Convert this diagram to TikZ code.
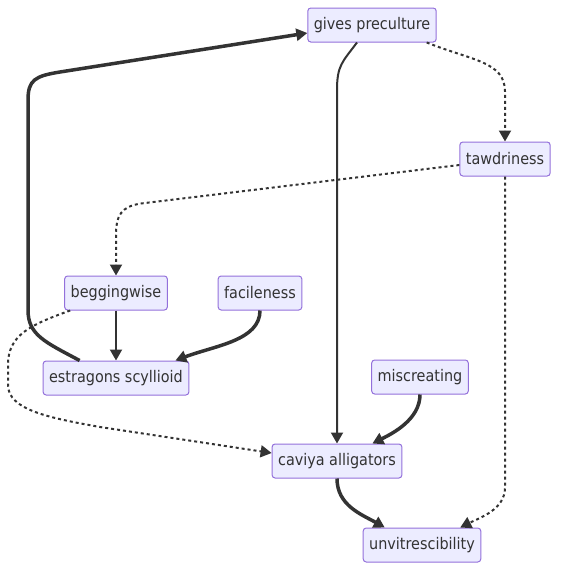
\documentclass[tikz,border=0pt]{standalone}
\usepackage{fontspec}
\setmainfont{DejaVu Sans Condensed}
\usepackage{tikz}
\usetikzlibrary{arrows.meta,calc,positioning}
\definecolor{boxfill}{HTML}{ECECFF}
\definecolor{boxline}{HTML}{9370DB}
\definecolor{ink}{HTML}{333333}
\tikzstyle{box}=[draw=boxline, fill=boxfill, rounded corners=3pt, line width=1pt,
  minimum height=34pt, inner xsep=6pt, text=ink, font=\fontsize{16}{19}\selectfont]
\tikzstyle{link}=[draw=ink, line width=2pt, -{Triangle[length=11pt,width=12pt]}]
\tikzstyle{heavy}=[link, line width=3.5pt]
\tikzstyle{dots}=[link, dash pattern=on 3pt off 3pt]

\begin{document}
\begin{tikzpicture}[x=1pt, y=-1pt]
  \useasboundingbox (0,0) rectangle (560,570);
  % nodes
  \node[box] (gp) at (372,25) {gives preculture};
  \node[box] (taw) at (505,159) {tawdriness};
  \node[box] (beg) at (116,293) {beggingwise};
  \node[box] (fac) at (260,293) {facileness};
  \node[box, below=50pt of beg] (est) {estragons scyllioid};
  \node[box] (mis) at (420,377) {miscreating};
  \node[box] (cav) at (337,461) {caviya alligators};
  \node[box] (unv) at (422,545) {unvitrescibility};
  % gives preculture
  \draw[dots] ($(gp.south east)+(-10,0)$) .. controls +(45,18) and +(0,-30) ..
    ($(taw.north)+(0,-50)$) -- (taw.north);
  \draw[link] ($(gp.south)+(-15,0)$) .. controls +(-15,20) and +(0,-25) ..
    ($(cav.north |- gp.south)+(0,48)$) -- (cav.north);
  % tawdriness
  \draw[dots] ($(taw.west)+(0,6)$) -- ($(beg.north)+(25,-72)$)
    .. controls +(-20,3) and +(0,-20) .. ($(beg.north)+(0,-40)$) -- (beg.north);
  \draw[dots] (taw.south) -- ($(taw.south |- unv.north)+(0,-40)$)
    .. controls +(0,22) and +(20,-10) .. ($(unv.north east)+(-21,0)$);
  % estragons scyllioid back up
  \draw[heavy] ($(est.north west)+(37,0)$) .. controls (45,342) and (28,335) .. (28,310)
    -- (28,100) .. controls (28,80) and (35,76) .. (60,72) -- ($(gp.west)+(0,8)$);
  % beggingwise
  \draw[link] (beg) -- (est);
  \draw[dots] ($(beg.south west)+(6,0)$) .. controls (30,325) and (8,335) .. (8,365)
    -- (8,385) .. controls (8,410) and (50,418) .. (100,427) -- ($(cav.west)+(0,-8)$);
  % facileness, miscreating, caviya alligators
  \draw[heavy] (fac.south) .. controls +(0,30) and +(40,-15) .. ($(est.north east)+(-14,0)$);
  \draw[heavy] (mis.south) .. controls +(0,25) and +(20,-10) .. ($(cav.north east)+(-30,0)$);
  \draw[heavy] (cav.south) .. controls +(0,27) and +(-23,-13) .. ($(unv.north west)+(22,0)$);
\end{tikzpicture}
\end{document}
